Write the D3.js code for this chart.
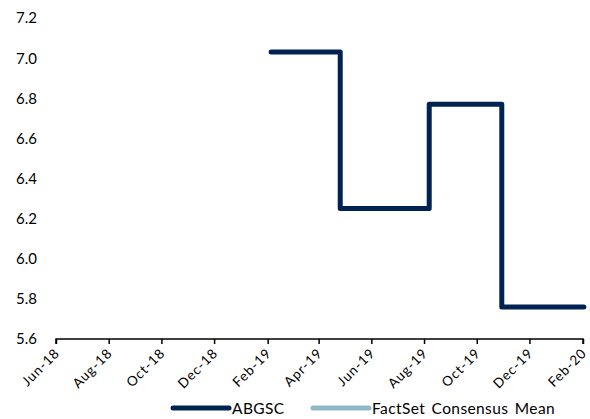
<!DOCTYPE html>
<html><head><meta charset="utf-8">
<script src="https://cdn.jsdelivr.net/npm/d3@7"></script>
<style>body{margin:0;background:#fff}svg{display:block}text{font-family:Lato,"Open Sans",sans-serif;fill:#000}</style>
</head><body><svg id="c" width="590" height="419"></svg>
<script>
const abgscDates = ["2019-02-05","2019-04-26","2019-08-07","2019-10-30","2020-02-02"];
const abgscValues = [7.03, 6.25, 6.77, 5.76, 5.76];
const consensusDates = [];
const consensusValues = [];
const yTicks = [5.6, 5.8, 6.0, 6.2, 6.4, 6.6, 6.8, 7.0, 7.2];
const xTickLabels = ["Jun-18","Aug-18","Oct-18","Dec-18","Feb-19","Apr-19","Jun-19","Aug-19","Oct-19","Dec-19","Feb-20"];
const seriesNames = ["ABGSC","FactSet Consensus Mean"];
const seriesColors = ["#002352","#8fb9c9"];

const parse = d3.timeParse("%Y-%m-%d");
const fmtIn = d3.timeParse("%b-%y");
const svg = d3.select("#c");
const x = d3.scaleTime().domain([parse("2018-06-01"), parse("2020-02-01")]).range([56, 583]);
const y = d3.scaleLinear().domain([5.6, 7.2]).range([339, 18]);

// y labels
svg.append("g").selectAll("text").data(yTicks).join("text")
  .attr("x", 37).attr("y", d => y(d)).attr("dy", "0.36em")
  .attr("text-anchor", "end").style("font-size", "15px")
  .text(d => d.toFixed(1));

// x axis
const xTickDates = xTickLabels.map(l => fmtIn(l));
const xAxis = d3.axisBottom(x).tickValues(xTickDates).tickSize(5).tickFormat((d,i) => xTickLabels[i]);
const gx = svg.append("g").attr("transform", "translate(0,339)").call(xAxis);
gx.select(".domain").attr("stroke", "#000").attr("stroke-width", 1.5).attr("d", `M${x.range()[0]},5V0H${x.range()[1]}V5`);
gx.selectAll(".tick line").attr("stroke", "#000").attr("stroke-width", 1.5);
gx.selectAll(".tick text")
  .style("font-size", "13.5px").style("letter-spacing", "0.9px")
  .attr("text-anchor", "end")
  .attr("y", 0).attr("dy", "0")
  .attr("transform", "translate(4,15) rotate(-45)");

// lines
const line = d3.line().x(d => x(d[0])).y(d => y(d[1])).curve(d3.curveStepAfter);
const abgsc = abgscDates.map((d,i) => [parse(d), abgscValues[i]]);
svg.append("path").datum(abgsc).attr("d", line)
  .attr("fill", "none").attr("stroke", seriesColors[0]).attr("stroke-width", 5)
  .attr("stroke-linejoin", "round").attr("stroke-linecap", "round");
const cons = consensusDates.map((d,i) => [parse(d), consensusValues[i]]);
if (cons.length) svg.append("path").datum(cons).attr("d", line)
  .attr("fill", "none").attr("stroke", seriesColors[1]).attr("stroke-width", 5);

// legend
const legX = [173, 313];
const lg = svg.append("g");
seriesNames.forEach((n,i) => {
  lg.append("line").attr("x1", legX[i]).attr("x2", legX[i] + 56).attr("y1", 408).attr("y2", 408)
    .attr("stroke", seriesColors[i]).attr("stroke-width", 5).attr("stroke-linecap", "round");
  lg.append("text").attr("x", legX[i] + 59).attr("y", 408).attr("dy", "0.36em")
    .style("font-size", "15.5px").style("letter-spacing", "0.4px").style("word-spacing", "2px").text(n);
});
</script></body></html>
